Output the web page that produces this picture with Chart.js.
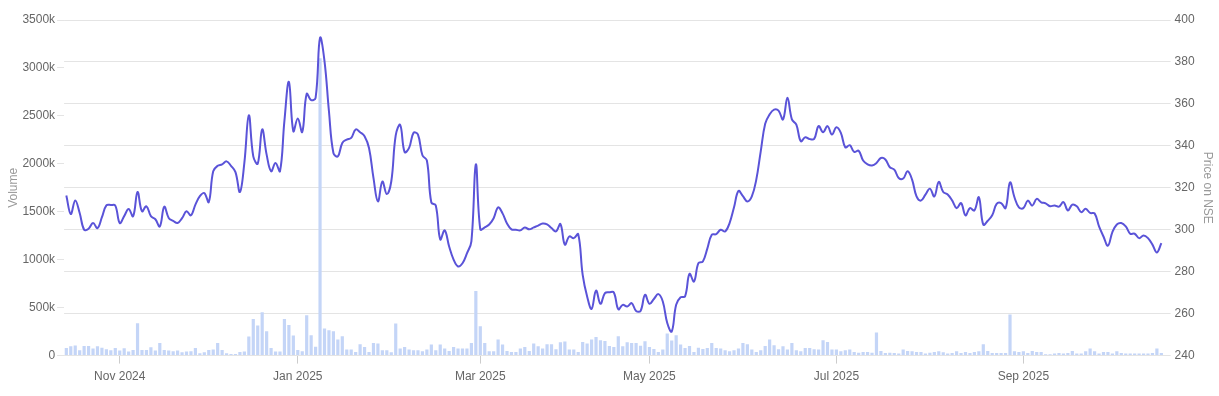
<!DOCTYPE html>
<html><head><meta charset="utf-8">
<script src="https://cdn.jsdelivr.net/npm/chart.js@4.4.1/dist/chart.umd.min.js"></script>
<style>html,body{margin:0;padding:0;background:#fff}#wrap{width:1219px;height:396px;position:relative}</style>
</head><body><div id="wrap"><canvas id="c"></canvas></div>
<script>
// Daily closing price on NSE (one value per trading day)
const price = [
316.3,307.5,314,308,300,300.5,303.2,300.8,306,311.6,
311.8,311.5,303.2,306.5,309.9,306.4,318,308.8,311.2,306.5,
305,301.6,311,305.6,304.2,303.2,305.5,308.8,306.9,312,
316,317.5,313.2,327.9,330.5,331.2,332.6,330.5,327.5,318,
332,354.6,335,331.5,347.8,335.8,327.9,331.8,327.9,352,
370.5,347,353,346.6,364.8,361.8,362.9,391.5,380.4,356.5,
336.6,335,341.4,343,343.8,347.8,346.5,344.6,339,324.7,
313.5,323,317,323,345,350,337,339,346.2,345.4,
335.5,333,313,311.6,295.4,299.7,292,285.8,282.5,284,
288.7,294.5,331.2,300.2,301.1,302.5,305.5,310.7,307.8,303,
300.2,300,299.7,301.1,300.2,301.1,302,303,302.6,300.8,
299.2,302.7,292.9,296.8,296,297.9,278.5,268.2,262.3,271,
264.7,269.8,270.2,270.1,262.1,264.2,263.4,265,261.3,261.3,
269,264.7,267,269.3,265.8,255.5,251.5,264.2,267.8,268.2,
279,275.3,284.1,284.9,291,297.6,297.9,300,299.2,303.2,
310.7,318.5,316,313.5,315.9,323.9,337.4,350.5,355,357.3,
356.8,352.6,362.9,352.6,350.1,342.2,344.1,343.2,343.3,349.4,
346.5,349.4,345.4,348.9,346.2,339.3,340.3,337.1,337.7,333,
331.2,330.6,331.8,334.2,333.5,329.8,328.7,324.7,324.4,327.9,
323.9,315.9,313.9,316.7,319.6,315.9,322.8,318,316.8,314,
310.3,312.7,306.9,310.3,309.2,315.5,302.4,304.3,306.9,312.3,
312.7,310.3,322.6,315.5,310.7,310.3,313.9,311.5,314.7,313.1,
312.6,311.2,311.6,311,313.2,309.2,312,311.2,308.4,310,
308,307.8,301.6,296.8,292.4,298.9,302.5,303.2,301.6,298.1,
298.1,296,297.3,296,292.9,289.2,293.6
];
// Daily traded volume, in thousands of shares
const volumeK = [
80,97,105,56,100,100,73,97,83,66,
56,80,52,77,42,59,338,59,59,87,
52,132,59,52,45,52,35,42,45,80,
24,35,59,63,132,59,24,17,17,38,
42,198,383,313,452,254,80,42,42,383,
320,209,59,45,421,212,91,3100,282,264,
254,167,202,63,63,38,118,90,38,132,
125,56,56,35,334,73,90,63,56,56,
45,63,115,56,115,73,49,90,73,73,
73,132,675,306,132,45,45,167,115,49,
38,38,73,90,49,125,97,73,118,118,
66,139,146,63,63,38,143,125,167,195,
160,153,101,90,202,97,139,132,132,104,
150,90,70,38,63,230,157,212,115,80,
100,38,83,70,80,132,80,73,56,45,
56,73,132,118,63,38,56,101,167,108,
66,97,63,132,56,45,80,80,66,63,
160,143,63,63,45,56,63,38,31,38,
38,31,240,49,28,31,28,21,63,49,
45,38,38,21,31,38,45,35,21,28,
45,28,38,28,38,45,118,49,28,28,
28,28,428,45,38,45,28,49,38,38,
14,14,21,28,21,28,49,21,21,45,
73,45,21,38,38,21,45,28,21,21,
21,21,21,21,28,73,28
];
// Month labels and the trading-day index where each one sits
const tickLabels = ['Nov 2024','Jan 2025','Mar 2025','May 2025','Jul 2025','Sep 2025'];
const tickIndex = [12, 52, 93, 131, 173, 215];
const categories = price.map((_, i) => i);

const gridColor = '#e4e4e4';
const textColor = '#666';

new Chart(document.getElementById('c'), {
  type: 'bar',
  data: {
    labels: categories,
    datasets: [
      {
        type: 'line',
        label: 'Price on NSE',
        data: price,
        yAxisID: 'y1',
        borderColor: '#5a53d8',
        borderWidth: 2,
        pointRadius: 0,
        tension: 0.4,
        fill: false,
        order: 0
      },
      {
        type: 'bar',
        label: 'Volume',
        data: volumeK,
        yAxisID: 'y',
        backgroundColor: '#c4d5f7',
        borderWidth: 0,
        order: 1
      }
    ]
  },
  options: {
    responsive: true,
    maintainAspectRatio: false,
    animation: false,
    devicePixelRatio: 1,
    layout: { padding: { top: 20, left: 4, right: 2, bottom: 6 } },
    plugins: { legend: { display: false }, tooltip: { enabled: false } },
    scales: {
      x: {
        type: 'category',
        offset: true,
        border: { display: false },
        grid: { offset: false, drawOnChartArea: false, drawTicks: true, tickLength: 8, color: '#ccc' },
        afterBuildTicks: (axis) => { axis.ticks = tickIndex.map(v => ({ value: v })); },
        ticks: {
          autoSkip: false, maxRotation: 0, padding: 6, color: textColor, font: { size: 12 },
          callback: (v) => { const k = tickIndex.indexOf(v); return k >= 0 ? tickLabels[k] : ''; }
        }
      },
      y: {
        position: 'left',
        min: 0, max: 3500,
        border: { display: false },
        grid: { drawOnChartArea: false, drawTicks: true, tickLength: 7, color: gridColor },
        ticks: { stepSize: 500, padding: 2, color: textColor, font: { size: 12 },
          callback: (v) => v === 0 ? '0' : v + 'k' },
        title: { display: true, text: 'Volume', color: '#999', font: { size: 12 }, padding: { top: 2, bottom: 0 } }
      },
      y1: {
        position: 'right',
        min: 240, max: 400,
        border: { display: false },
        grid: { drawOnChartArea: true, drawTicks: true, tickLength: 7, color: gridColor },
        ticks: { stepSize: 20, padding: 4, color: textColor, font: { size: 12 } },
        title: { display: true, text: 'Price on NSE', color: '#999', font: { size: 12 }, padding: { top: 2, bottom: 2 } }
      }
    }
  }
});
</script>
</body></html>
